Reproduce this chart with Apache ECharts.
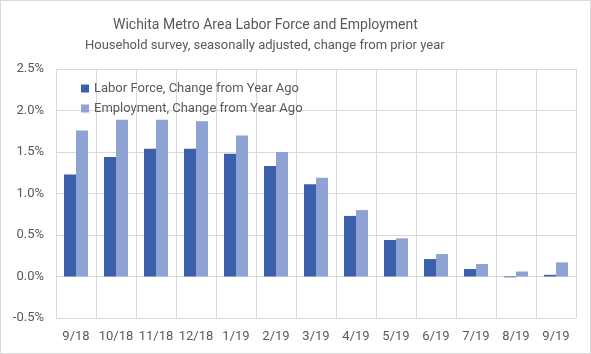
<!DOCTYPE html>
<html>
<head>
<meta charset="utf-8">
<script src="https://cdn.jsdelivr.net/npm/echarts@6/dist/echarts.min.js"></script>
<style>
  html, body { margin: 0; padding: 0; background: #fff; }
  #main { width: 589px; height: 352px; border: 1px solid #d9d9d9; }
</style>
</head>
<body>
<div id="main"></div>
<script>
// data
var months = ['9/18', '10/18', '11/18', '12/18', '1/19', '2/19', '3/19', '4/19', '5/19', '6/19', '7/19', '8/19', '9/19'];
var laborForce = [1.23, 1.44, 1.54, 1.54, 1.48, 1.33, 1.11, 0.73, 0.44, 0.21, 0.09, -0.01, 0.02];
var employment = [1.76, 1.89, 1.89, 1.87, 1.70, 1.50, 1.19, 0.80, 0.46, 0.27, 0.15, 0.06, 0.17];
var yTicks = { min: -0.5, max: 2.5, step: 0.5 };

var chart = echarts.init(document.getElementById('main'));

var txt = '#595959';
var fontFam = 'Roboto, "Liberation Sans", sans-serif';

var option = {
  animation: false,
  color: ['#3a60ab', '#8fa2d4'],
  title: [{
    text: 'Wichita Metro Area Labor Force and Employment',
    left: 107,
    top: 12,
    textStyle: { color: txt, fontSize: 14, fontWeight: 'normal', fontFamily: fontFam }
  }, {
    text: 'Household survey, seasonally adjusted, change from prior year',
    left: 79,
    top: 33,
    textStyle: { color: txt, fontSize: 13, fontWeight: 'normal', fontFamily: fontFam }
  }],
  legend: {
    orient: 'vertical',
    left: 75,
    top: 76,
    itemWidth: 8,
    itemHeight: 8,
    itemGap: 7,
    icon: 'rect',
    textStyle: { color: txt, fontSize: 13, fontFamily: fontFam },
    data: ['Labor Force, Change from Year Ago', 'Employment, Change from Year Ago']
  },
  grid: {
    left: 55,
    right: 14,
    top: 68,
    bottom: 35
  },
  xAxis: {
    type: 'category',
    data: months,
    axisLine: { show: false },
    axisTick: { show: false },
    axisLabel: { color: txt, fontSize: 13, fontFamily: fontFam, margin: 12, interval: 0 },
    splitLine: { show: true, interval: 0, lineStyle: { color: '#d9d9d9', width: 1 } }
  },
  yAxis: {
    type: 'value',
    min: yTicks.min,
    max: yTicks.max,
    interval: yTicks.step,
    axisLine: { show: false },
    axisTick: { show: false },
    axisLabel: {
      color: txt, fontSize: 13, fontFamily: fontFam, margin: 12,
      formatter: function (v) { return v.toFixed(1) + '%'; }
    },
    splitLine: { lineStyle: { color: '#d9d9d9', width: 1 } }
  },
  series: [{
    name: 'Labor Force, Change from Year Ago',
    type: 'bar',
    barGap: '0%',
    barCategoryGap: '40%',
    data: laborForce
  }, {
    name: 'Employment, Change from Year Ago',
    type: 'bar',
    data: employment
  }]
};

chart.setOption(option);
</script>
</body>
</html>
